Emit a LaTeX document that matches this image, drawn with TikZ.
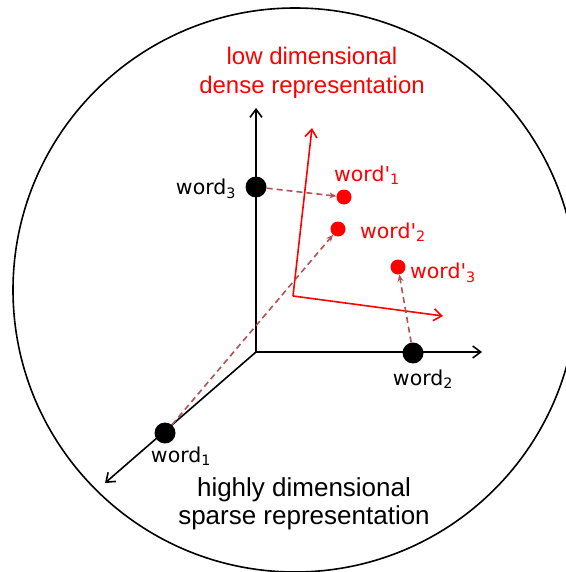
\documentclass[tikz,border=0pt]{standalone}
\usepackage{fontspec}
\setmainfont{Liberation Sans}
\newfontfamily\wordfont{DejaVu Sans}
\usetikzlibrary{arrows.meta}
\definecolor{linkbrown}{RGB}{178,82,82}

\begin{document}
\begin{tikzpicture}[x=1pt, y=-1pt,
  every node/.style={font=\fontsize{24}{29}\selectfont},
  axis/.style={line width=1.6pt, -{Straight Barb[length=8pt,width=12pt]}},
  bigdot/.style={circle, fill=black, inner sep=0pt, minimum size=21pt},
  reddot/.style={circle, fill=red, inner sep=0pt, minimum size=15pt},
  wordlabel/.style={font=\wordfont\fontsize{20.5}{24}\selectfont},
  link/.style={draw=linkbrown, line width=1.6pt, dash pattern=on 6pt off 4pt, -{Stealth[length=7pt,width=6pt]}}]

  \useasboundingbox (0,0) rectangle (565,572);

  % ========== Outer space ==========
  \draw[line width=1.6pt] (295,290) circle[radius=282pt];

  % --- Sparse axes ---
  \coordinate (origin) at (256,352);
  \coordinate (xend) at (482,352);
  \coordinate (yend) at (256,108);
  \coordinate (zend) at (105,483);
  \draw[axis] (origin) -- (xend);
  \draw[axis] (origin) -- (yend);
  \draw[axis] (origin) -- (zend);

  % --- Dense axes ---
  \coordinate (rorigin) at (293,296);
  \coordinate (rxend) at (443,316);
  \coordinate (ryend) at (312,128);
  \draw[axis, red] (rorigin) -- (rxend);
  \draw[axis, red] (rorigin) -- (ryend);

  % --- Sparse words ---
  \node[bigdot] (w1) at (165,433) {};
  \node[bigdot] (w2) at (413,353) {};
  \node[bigdot] (w3) at (256,187) {};
  \node[wordlabel] (w1label) at (181,456) {word\textsubscript{1}};
  \node[wordlabel] (w2label) at (423,379) {word\textsubscript{2}};
  \node[wordlabel] (w3label) at (206,189) {word\textsubscript{3}};

  % --- Dense words ---
  \node[reddot] (r1) at (344,197) {};
  \node[reddot] (r2) at (338,229) {};
  \node[reddot] (r3) at (398,267) {};
  \node[wordlabel, red] (r1label) at (367,175) {word\textquotesingle\textsubscript{1}};
  \node[wordlabel, red] (r2label) at (393,232) {word\textquotesingle\textsubscript{2}};
  \node[wordlabel, red] (r3label) at (443,273) {word\textquotesingle\textsubscript{3}};

  % Projections
  \draw[link] (w3) -- (r1);
  \draw[link] (w1) -- (r2);
  \draw[link] (w2) -- (r3);

  % Titles
  \node[red, align=center] (densetitle) at (312,73) {low dimensional\\dense representation};
  \node[align=center, font=\fontsize{26}{28.5}\selectfont] (sparsetitle) at (304,504) {highly dimensional\\sparse representation};

\end{tikzpicture}
\end{document}
